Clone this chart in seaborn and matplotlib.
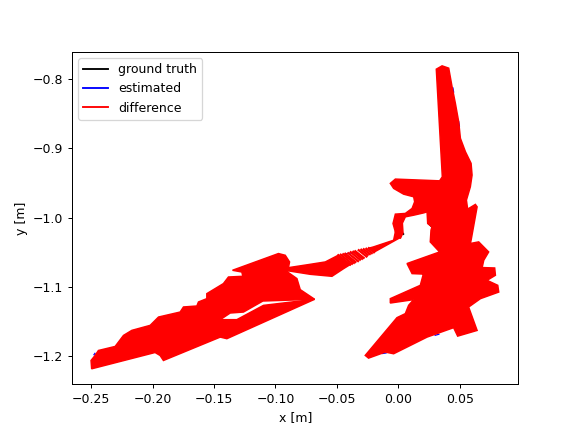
import pandas as pd
import matplotlib
matplotlib.use("Agg")
import matplotlib.pyplot as plt
from matplotlib.lines import Line2D
import seaborn as sns

# outlines of the area swept by the difference lines
right_x = [.0309, .0356, .0410, .0437, .0464, .0491, .0505, .0546, .0592, .0600, .0586, .0554, .0564, .0627, .0641, .0592,
           .0586, .0654, .0735, .0695, .0682, .0784, .0790, .0722, .0809, .0817, .0668, .0572, .0641, .0483, .0450, .0234,
           -.0038, -.0106, -.0242, -.0269, -.0011, .0057, .0084, .0125, -.0065, -.0065, .0179, .0201, .0247, .0112, .0071,
           .0336, .0260, .0266, .0274, .0239, .0234, .0206, .0125, .0057, .0033, .0038, .0016, -.0024, -.0043, -.0024,
           .0057, .0112, .0133, .0125, .0043, -.0038, -.0065, -.0024, .0336, .0358]
right_y = [-.7860, -.7812, -.7845, -.8111, -.8351, -.8617, -.8856, -.9050, -.9217, -.9386, -.9555, -.9747, -.9877, -.9809,
           -.9844, -1.0325, -1.0372, -1.0349, -1.0494, -1.0614, -1.0719, -1.0725, -1.0830, -1.0903, -1.0975, -1.1072,
           -1.1167, -1.1288, -1.1625, -1.1707, -1.1585, -1.1721, -1.1961, -1.1937, -1.2024, -1.1985, -1.1441, -1.1383,
           -1.1263, -1.1181, -1.1230, -1.1167, -1.0975, -1.0830, -1.0816, -1.0806, -1.0661, -1.0494, -1.0349, -1.0180,
           -1.0133, -1.0084, -.9916, -.9931, -.9964, -.9988, -1.0079, -1.0218, -1.0300, -1.0205, -1.0084, -.9949, -.9939,
           -.9867, -.9771, -.9699, -.9661, -.9578, -.9506, -.9444, -.9469, -.9411]

left_x = [-.2495, -.2500, -.2467, -.2440, -.2304, -.2236, -.2168, -.2019, -.1951, -.1775, -.1748, -.1639, -.1626, -.1558,
          -.1558, -.1490, -.1423, -.1382, -.1265, -.1273, -.1349, -.0975, -.0920, -.0885, -.0901, -.0825, -.0798, -.0681,
          -.1102, -.1260, -.1368, -.1449, -.1449, -.1911, -.1938, -.1979]
left_y = [-1.2178, -1.2058, -1.1986, -1.1914, -1.1856, -1.1697, -1.1624, -1.1552, -1.1432, -1.1360, -1.1287, -1.1273,
          -1.1215, -1.1167, -1.1095, -1.1022, -1.0950, -1.0855, -1.0845, -1.0783, -1.0758, -1.0517, -1.0542, -1.0638,
          -1.0783, -1.0878, -1.1037, -1.1176, -1.1201, -1.1360, -1.1374, -1.1470, -1.1721, -1.2058, -1.1986, -1.1943]

band_x = [-.0681, -.1097, -.1314, -.1449, -.1449, -.1395]
band_y = [-1.1176, -1.1264, -1.1470, -1.1470, -1.1721, -1.1744]

ribbon_left_x = [-.0893, -.0730, -.0594, -.0488, -.0392, -.0445, -.0540, -.0717, -.0893]
ribbon_left_y = [-1.0720, -1.0676, -1.0638, -1.0541, -1.0676, -1.0734, -1.0845, -1.0816, -1.0767]

ribbon_right_x = [-.0240, -.0201, -.0038, -.0024, .0030, .0016, -.0199]
ribbon_right_y = [-1.0440, -1.0421, -1.0325, -1.0205, -1.0228, -1.0286, -1.0498]

# single difference lines in the middle of the ribbon, where gaps show
top_x = [-.0488, -.0468, -.0448, -.0431, -.0407, -.0387, -.0366, -.0350, -.0322, -.0301, -.0281, -.0260, -.0240]
top_y = [-1.0541, -1.0534, -1.0527, -1.0520, -1.0513, -1.0498, -1.0491, -1.0484, -1.0469, -1.0462, -1.0455, -1.0448, -1.0440]
bot_x = [-.0392, -.0377, -.0361, -.0349, -.0328, -.0312, -.0295, -.0282, -.0259, -.0249, -.0232, -.0216, -.0199]
bot_y = [-1.0676, -1.0664, -1.0651, -1.0638, -1.0625, -1.0605, -1.0592, -1.0579, -1.0559, -1.0536, -1.0524, -1.0511, -1.0498]

# bits of the two trajectories that stay visible next to the red
est_x = [.0444, .0450, .0491, .0497, .0300, .0330, -.0130, -.0100, -.0420, -.0370, -.2476, -.2468]
est_y = [-.8130, -.8190, -.8617, -.8680, -1.1695, -1.1680, -1.1958, -1.1950, -1.0518, -1.0505, -1.1975, -1.1955]
est_run = [0, 0, 1, 1, 2, 2, 3, 3, 4, 4, 5, 5]

gt_x = [.0030, .0040, .0274, .0248]
gt_y = [-1.0215, -1.0235, -1.0133, -1.0084]
gt_run = [0, 0, 1, 1]

gt = pd.DataFrame({"x": gt_x, "y": gt_y, "run": gt_run})
est = pd.DataFrame({"x": est_x, "y": est_y, "run": est_run})

fig, ax = plt.subplots(figsize=(6.4, 4.8), dpi=90)

sns.lineplot(data=gt, x="x", y="y", units="run", estimator=None, sort=False, color="black", ax=ax)
sns.lineplot(data=est, x="x", y="y", units="run", estimator=None, sort=False, color="blue", lw=1, ax=ax)

outlines = [(right_x, right_y), (left_x, left_y), (band_x, band_y),
            (ribbon_left_x, ribbon_left_y), (ribbon_right_x, ribbon_right_y)]
for xs, ys in outlines:
    ax.fill(xs, ys, color="red", lw=1.2, zorder=3)

for x0, y0, x1, y1 in zip(top_x, top_y, bot_x, bot_y):
    ax.plot([x0, x1], [y0, y1], color="red", lw=1.8, zorder=3)

ax.set_xlim(-0.2655, 0.0977)
ax.set_ylim(-1.2404, -0.7610)
ax.set_xlabel("x [m]")
ax.set_ylabel("y [m]")

handles = [Line2D([], [], color="black"), Line2D([], [], color="blue"), Line2D([], [], color="red")]
ax.legend(handles, ["ground truth", "estimated", "difference"], loc="upper left")

fig.savefig("out.png", dpi=90)
